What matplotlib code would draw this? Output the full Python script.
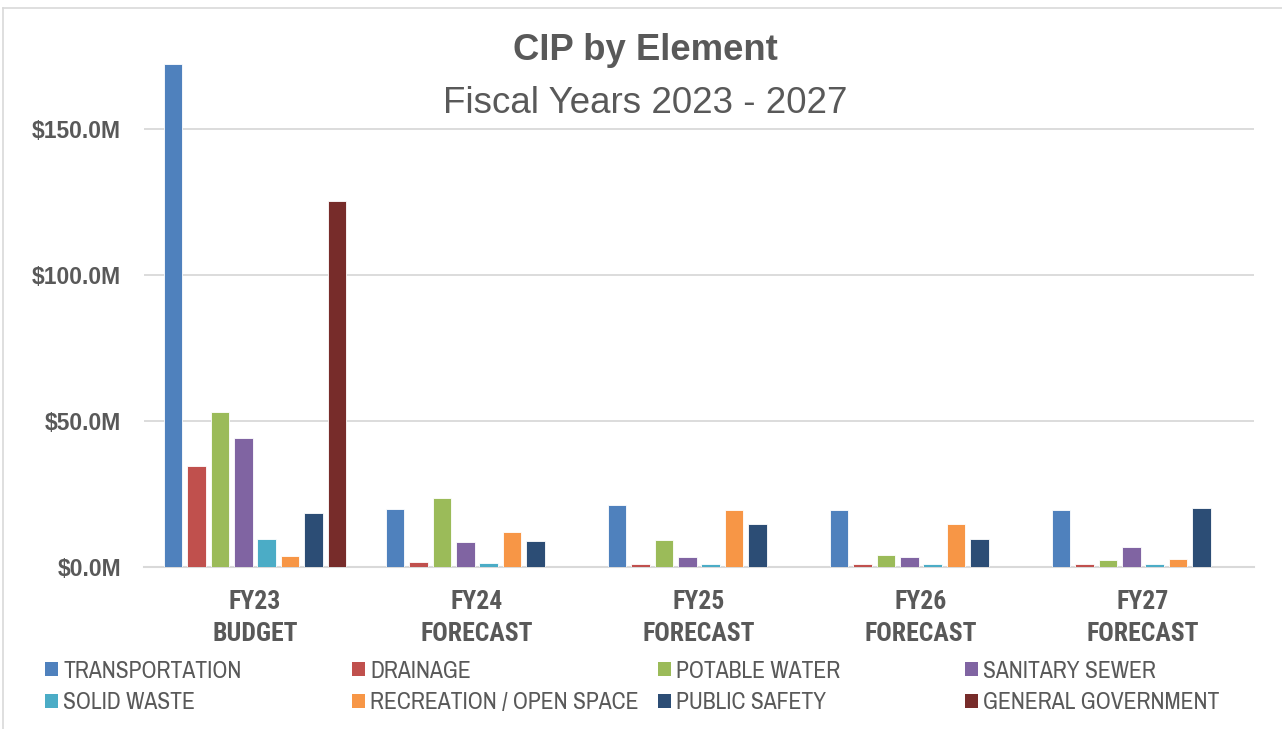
import matplotlib
matplotlib.use("Agg")
import matplotlib.pyplot as plt
import numpy as np
from matplotlib.patches import Patch
from matplotlib.lines import Line2D

plt.rcParams['font.family'] = ['Liberation Sans', 'DejaVu Sans']
narrow = ['Archivo Narrow', 'PT Sans Narrow', 'Liberation Sans', 'DejaVu Sans']
narrow_bold = ['Roboto Condensed', 'PT Sans Narrow', 'Liberation Sans', 'DejaVu Sans']

# data ($M)
years = ['FY23\nBUDGET', 'FY24\nFORECAST', 'FY25\nFORECAST', 'FY26\nFORECAST', 'FY27\nFORECAST']
elements = ['TRANSPORTATION', 'DRAINAGE', 'POTABLE WATER', 'SANITARY SEWER',
            'SOLID WASTE', 'RECREATION / OPEN SPACE', 'PUBLIC SAFETY', 'GENERAL GOVERNMENT']
transportation = [172.2, 19.9, 21.2, 19.5, 19.5]
drainage = [34.6, 1.7, 1.0, 1.0, 1.0]
potable_water = [53.1, 23.6, 9.2, 4.1, 2.4]
sanitary_sewer = [44.2, 8.6, 3.4, 3.4, 6.8]
solid_waste = [9.6, 1.4, 1.0, 1.0, 1.0]
recreation = [3.8, 12.0, 19.5, 14.7, 2.7]
public_safety = [18.5, 8.9, 14.7, 9.6, 20.2]
general_government = [125.3, 0, 0, 0, 0]
series = [transportation, drainage, potable_water, sanitary_sewer,
          solid_waste, recreation, public_safety, general_government]
colors = ['#4F81BD', '#C0504D', '#9BBB59', '#8064A2',
          '#4BACC6', '#F79646', '#2C4D75', '#772C2A']

txt = '#595959'

fig = plt.figure(figsize=(12.82, 7.29), dpi=100)
W, H = 1282, 729
ax = fig.add_axes([144 / W, 1 - 567 / H, (1254 - 144) / W, (567 - 56) / H])

x = np.arange(len(years))
step = 0.1055
width = 0.084
for i, (vals, c) in enumerate(zip(series, colors)):
    ax.bar(x + (i - 3.5) * step, vals, width, color=c, edgecolor='white',
           linewidth=0.6, label=elements[i], zorder=3)

ax.set_xlim(-0.5, len(years) - 0.5)
ax.set_ylim(0, 175)
ax.set_yticks([0, 50, 100, 150])
ax.set_yticklabels(['$0.0M', '$50.0M', '$100.0M', '$150.0M'],
                   fontsize=16.5, fontweight='bold', color=txt)
ax.set_xticks(x)
ax.set_xticklabels(years, fontsize=18.5, fontweight='bold', color=txt,
                   linespacing=1.42, family=narrow_bold)
ax.tick_params(axis='both', length=0)
ax.tick_params(axis='y', pad=16.5)
ax.tick_params(axis='x', pad=16.5)
ax.grid(axis='y', color='#D9D9D9', linewidth=1.3, zorder=0)
for s in ['top', 'right', 'left']:
    ax.spines[s].set_visible(False)
ax.spines['bottom'].set_color('#D9D9D9')
ax.spines['bottom'].set_linewidth(1.5)

fig.text(645 / W, 1 - 60 / H, 'CIP by Element', ha='center', va='baseline',
         fontsize=26.3, fontweight='bold', color=txt)
fig.text(645 / W, 1 - 113 / H, 'Fiscal Years 2023 - 2027', ha='center', va='baseline',
         fontsize=26.5, color=txt)

# legend, one column at a time (Excel fills rows first)
col_x = [45, 352, 658, 965]
for j in range(4):
    idx = [j, j + 4]
    leg = fig.legend([Patch(facecolor=colors[k], edgecolor='none') for k in idx],
                     [elements[k] for k in idx], loc='center left',
                     bbox_to_anchor=(col_x[j] / W, 1 - 687 / H),
                     frameon=False, labelcolor=txt, handlelength=0.55,
                     handleheight=0.55, handletextpad=0.22, borderpad=0,
                     labelspacing=0.45, borderaxespad=0,
                     prop={'family': narrow, 'size': 17})

# chart border
fig.add_artist(Line2D([3 / W, 3 / W], [0, 1 - 8 / H], color='#D9D9D9', lw=1.2))
fig.add_artist(Line2D([3 / W, 1], [1 - 8 / H, 1 - 8 / H], color='#D9D9D9', lw=1.2))

fig.savefig('out.png', dpi=100)
